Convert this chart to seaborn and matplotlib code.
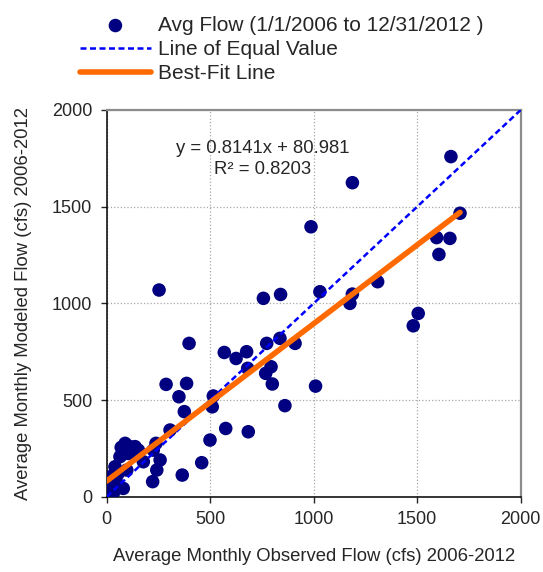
import numpy as np
import pandas as pd
import matplotlib
matplotlib.use("Agg")
import matplotlib.pyplot as plt
import seaborn as sns

# valori (cfs)
observed = [1663, 1187, 1707, 1594, 1658, 1605, 987, 1309, 1187, 1175,
            1505, 1481, 1030, 840, 757, 253, 398, 773, 837, 910,
            568, 676, 625, 681, 794, 768, 800, 861, 1009, 287,
            386, 349, 375, 515, 510, 499, 575, 684, 459, 365,
            306, 222, 242, 258, 238, 177, 137, 89, 105, 72,
            40, 80, 5, 24, 16, 56, 97, 153, 225, 64,
            8, 30, 120, 12, 35, 45, 110, 70]
modeled = [1759, 1624, 1466, 1340, 1336, 1253, 1396, 1112, 1048, 1000,
           948, 884, 1060, 1046, 1026, 1069, 793, 793, 819, 793,
           746, 750, 715, 664, 672, 638, 583, 471, 572, 581,
           586, 517, 440, 521, 465, 293, 353, 336, 176, 112,
           345, 78, 138, 190, 276, 181, 259, 276, 224, 216,
           155, 43, 17, 52, 103, 121, 138, 241, 241, 207,
           30, 70, 235, 10, 25, 90, 260, 255]

slope = 0.8141
intercept = 80.981
r2 = 0.8203

ticks = [0, 500, 1000, 1500, 2000]

df = pd.DataFrame({"obs": observed, "mod": modeled})
equal = pd.DataFrame({"x": [0, 2000], "y": [0, 2000]})
xfit = np.array([0, max(observed)])
fit = pd.DataFrame({"x": xfit, "y": slope * xfit + intercept})

sns.set_style("white")
plt.rcParams["font.family"] = ["Liberation Sans", "DejaVu Sans"]

fig = plt.figure(figsize=(5.43, 5.72), dpi=100)
ax = fig.add_axes([0.1965, 0.1316, 0.7624, 0.6761])

sns.scatterplot(data=df, x="obs", y="mod", ax=ax, color="#000080", s=95,
                edgecolor="none", zorder=3,
                label="Avg Flow (1/1/2006 to 12/31/2012 )")
sns.lineplot(data=equal, x="x", y="y", ax=ax, color="#0000FF", lw=1.8,
             dashes=False, zorder=4, label="Line of Equal Value")
ax.lines[-1].set_dashes([2.4, 1.4])
sns.lineplot(data=fit, x="x", y="y", ax=ax, color="#FF6A00", lw=4,
             zorder=5, label="Best-Fit Line")
ax.lines[-1].set_solid_capstyle("round")

ax.set_xlim(0, 2000)
ax.set_ylim(0, 2000)
ax.set_xticks(ticks)
ax.set_yticks(ticks)
ax.grid(True, linestyle=":", color="#A8A8A8", lw=0.9)
ax.tick_params(direction="out", length=4.5, width=1, labelsize=13, pad=6,
               bottom=True, left=True)

for s in ["left", "bottom"]:
    ax.spines[s].set_color("black")
    ax.spines[s].set_linewidth(1.1)
for s in ["top", "right"]:
    ax.spines[s].set_color("#8C8C8C")
    ax.spines[s].set_linewidth(1.6)

ax.set_xlabel("Average Monthly Observed Flow (cfs) 2006-2012", fontsize=13.3, labelpad=14)
ax.set_ylabel("Average Monthly Modeled Flow (cfs) 2006-2012", fontsize=13.3, labelpad=14)

ax.text(755, 1745, f"y = {slope}x + {intercept}\nR² = {r2}", ha="center", va="center",
        fontsize=13.3, linespacing=1.3)

handles, labels = ax.get_legend_handles_labels()
ax.get_legend().remove()
fig.legend(handles, labels, loc="upper left", bbox_to_anchor=(80 / 543, 1 - 16 / 572),
           frameon=False, fontsize=15, borderpad=0, borderaxespad=0,
           handlelength=3.4, handletextpad=0.35, labelspacing=0.24)

fig.savefig("out.png", dpi=100)
